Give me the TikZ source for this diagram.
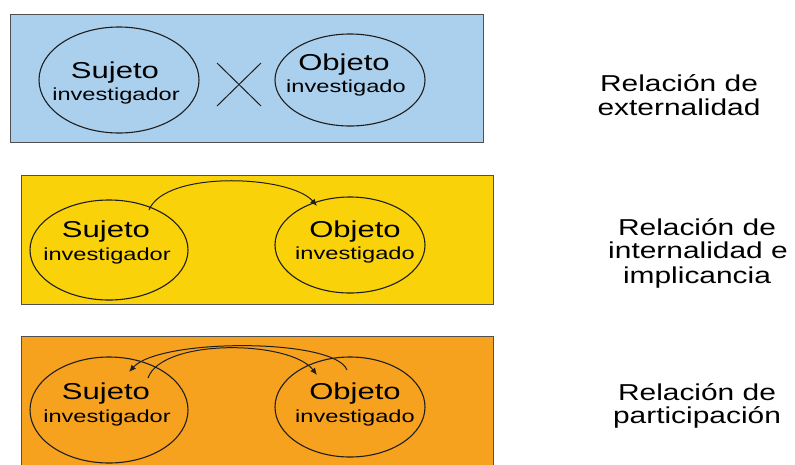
\documentclass[tikz,border=0pt]{standalone}
\usepackage{fontspec}
\setmainfont{Liberation Sans}
\usetikzlibrary{arrows.meta}
\definecolor{bluefill}{RGB}{171,208,237}
\definecolor{yellowfill}{RGB}{250,210,10}
\definecolor{orangefill}{RGB}{247,162,30}
\definecolor{edge}{RGB}{30,30,30}
\newcommand{\bigtxt}[1]{\fontsize{23}{26}\selectfont\scalebox{1.35}[1]{#1}}
\newcommand{\smalltxt}[1]{\fontsize{17.5}{20}\selectfont\scalebox{1.35}[1]{#1}}
\newcommand{\lbltxt}[1]{\fontsize{23}{26}\selectfont\scalebox{1.3}[1]{#1}}
\tikzset{
  panel/.style={draw={rgb,255:red,80;green,80;blue,80}, line width=0.9pt},
  oval/.style={draw=edge, line width=1.1pt},
  txt/.style={anchor=base, inner sep=0pt},
  arr/.style={draw=edge, line width=1pt, -{Latex[length=7pt,width=6pt]}},
}
\begin{document}
\begin{tikzpicture}[x=1pt,y=-1pt]
\clip (0,0) rectangle (795,464);
\fill[white] (0,0) rectangle (795,464);

% Panel 1
\filldraw[panel, fill=bluefill] (10,14) rectangle (483,142);
\draw[oval] (119,80) ellipse [x radius=80, y radius=53];
\draw[oval] (350,80) ellipse [x radius=75, y radius=46];
\node[txt] (s1) at (115,78) {\bigtxt{Sujeto}};
\node[txt] (s1b) at (116,100) {\smalltxt{investigador}};
\node[txt] (o1) at (344,70) {\bigtxt{Objeto}};
\node[txt] (o1b) at (346,92) {\smalltxt{investigado}};
\coordinate (xa) at (217,63);
\coordinate (xb) at (261,106);
\coordinate (xc) at (217,106);
\coordinate (xd) at (261,63);
\draw[edge, line width=1pt] (xa) -- (xb);
\draw[edge, line width=1pt] (xc) -- (xd);

% Panel 2
\filldraw[panel, fill=yellowfill] (21,175) rectangle (493,304);
\draw[oval] (109,250) ellipse [x radius=79, y radius=50];
\draw[oval] (350,245) ellipse [x radius=75, y radius=48];
\node[txt] (s2) at (106,237) {\bigtxt{Sujeto}};
\node[txt] (s2b) at (107,260) {\smalltxt{investigador}};
\node[txt] (o2) at (355,237) {\bigtxt{Objeto}};
\node[txt] (o2b) at (355,259) {\smalltxt{investigado}};
\coordinate (a2s) at (149,210);
\coordinate (a2e) at (317,206);
\draw[arr] (a2s) .. controls (165,170) and (290,175) .. (a2e);

% Panel 3
\filldraw[panel, fill=orangefill] (21,336) rectangle (493,480);
\draw[oval] (109,410) ellipse [x radius=79, y radius=53];
\draw[oval] (350,407) ellipse [x radius=75, y radius=50];
\node[txt] (s3) at (106,399) {\bigtxt{Sujeto}};
\node[txt] (s3b) at (107,422) {\smalltxt{investigador}};
\node[txt] (o3) at (355,399) {\bigtxt{Objeto}};
\node[txt] (o3b) at (355,422) {\smalltxt{investigado}};
\coordinate (a3s) at (148,378);
\coordinate (a3e) at (317,375);
\coordinate (b3s) at (347,370);
\coordinate (b3e) at (129,372);
\draw[arr] (a3s) .. controls (162,338) and (290,340) .. (a3e);
\draw[arr] (b3s) .. controls (335,338) and (160,338) .. (b3e);

% Right labels
\node[txt] (l1a) at (679,91) {\lbltxt{Relación de}};
\node[txt] (l1b) at (679,115) {\lbltxt{externalidad}};
\node[txt] (l2a) at (697,235) {\lbltxt{Relación de}};
\node[txt] (l2b) at (698,258) {\lbltxt{internalidad e}};
\node[txt] (l2c) at (697,283) {\lbltxt{implicancia}};
\node[txt] (l3a) at (697,400) {\lbltxt{Relación de}};
\node[txt] (l3b) at (697,423) {\lbltxt{participación}};
\end{tikzpicture}
\end{document}
